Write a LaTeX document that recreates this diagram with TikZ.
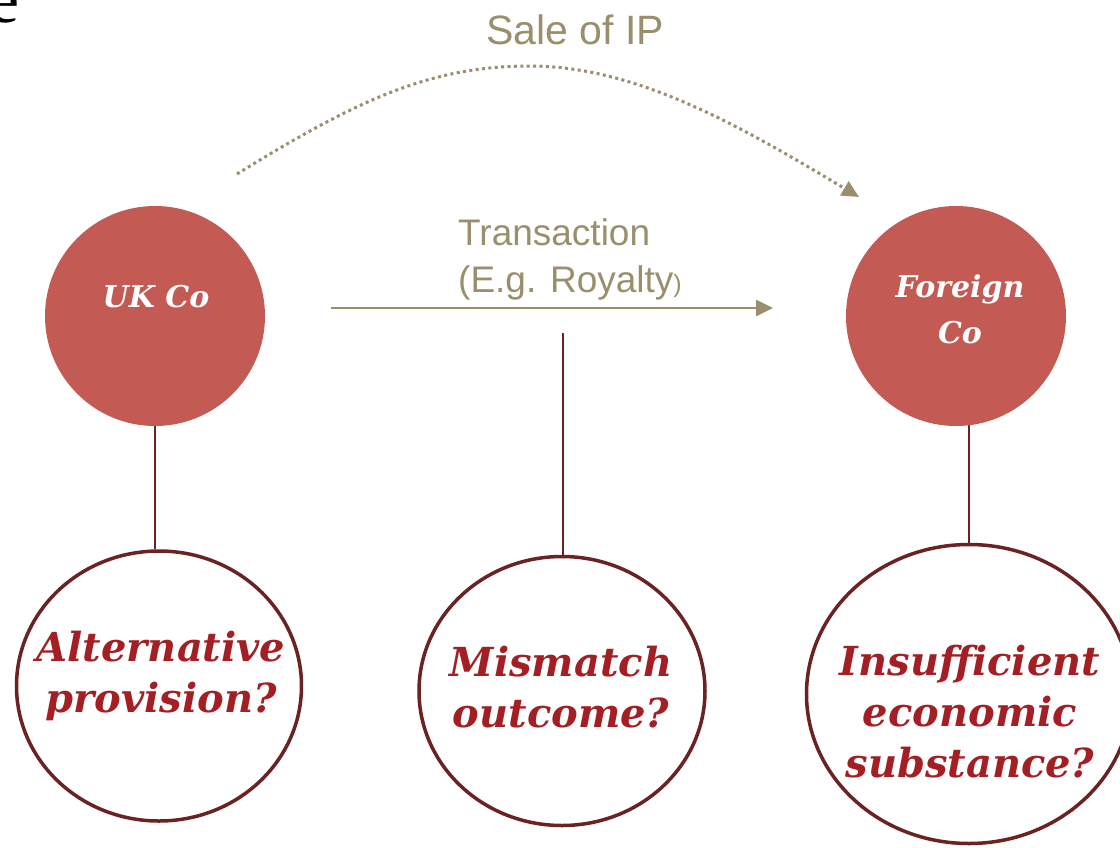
\documentclass[tikz,border=0pt]{standalone}
\usepackage{fontspec}
\setmainfont{Liberation Sans}
\newfontfamily\headfont{DejaVu Serif}
\newfontfamily\letterfont{Liberation Serif}
\usetikzlibrary{shapes.geometric,arrows.meta,backgrounds}

\definecolor{ipolive}{HTML}{9A8F6D}
\definecolor{cofill}{HTML}{C45A54}
\definecolor{rimcol}{HTML}{6A2222}
\definecolor{askred}{HTML}{A31F24}

\tikzset{
  company/.style={circle, fill=cofill, minimum size=220pt, inner sep=0pt},
  colabel/.style={text=white, inner sep=0pt, align=center,
    font=\headfont\bfseries\itshape\fontsize{30}{46}\selectfont},
  question/.style={ellipse, draw=rimcol, line width=3.5pt, fill=white, inner sep=0pt},
  asklabel/.style={text=askred, inner sep=0pt, align=center,
    font=\headfont\bfseries\itshape\fontsize{40}{51}\selectfont},
  stem/.style={draw=rimcol, line width=2.2pt},
  flow/.style={draw=ipolive, line width=2.6pt, -{Triangle[length=17pt,width=16pt]}},
  saleflow/.style={draw=ipolive, line width=3pt, dash pattern=on 3pt off 3.4pt,
    -{Triangle[length=17pt,width=16pt]}},
  flowtext/.style={text=ipolive, inner sep=0pt}
}

\begin{document}
\begin{tikzpicture}[x=1pt, y=-1pt]
\useasboundingbox (0,0) rectangle (1120,847);
\clip (0,0) rectangle (1120,847);

% letter left over from the slide heading
\node[anchor=base east, inner sep=0pt, font=\letterfont\fontsize{70}{70}\selectfont] (corner) at (20,22) {e};

% the two companies (multi-line labels sit on the baseline of their last line)
\node[company] (uk) at (155,316) {};
\node[company] (fc) at (956,316) {};
\node[colabel, anchor=base] (uklabel) at (156,307) {UK Co};
\node[colabel, anchor=base] (fclabel) at (960,343) {Foreign\\Co};

% the three questions
\node[question, minimum width=285pt, minimum height=270pt] (alt) at (159,686) {};
\node[question, minimum width=286pt, minimum height=269pt] (mis) at (562,691) {};
\node[question, minimum width=325pt, minimum height=299pt] (ins) at (969,694) {};
\node[asklabel, anchor=base] (altlabel) at (161,712) {Alternative\\provision?};
\node[asklabel, anchor=base] (mislabel) at (561,727) {Mismatch\\outcome?};
\node[asklabel, anchor=base] (inslabel) at (970,777) {Insufficient\\economic\\substance?};

% stems from the companies and the transaction down to the questions
\begin{scope}[on background layer]
  \draw[stem] (uk.center) -- (uk.center |- alt.north);
  \draw[stem] (fc.center -| ins.north) -- (ins.north);
\end{scope}
\coordinate (midtop) at (563,333);
\draw[stem] (midtop) -- (midtop |- mis.north);

% the transaction
\coordinate (trfrom) at (331,308);
\coordinate (trto) at (773,308);
\draw[flow] (trfrom) -- (trto);
\node[flowtext, anchor=base west, align=left, font=\fontsize{37}{47}\selectfont] (trlabel) at (458,292)
  {Transaction\\(E.g. Royalty{\fontsize{25}{25}\selectfont)}};

% the sale of IP
\coordinate (salefrom) at (237,174);
\coordinate (salepeak) at (530,66);
\coordinate (saleto) at (859,197);
\draw[saleflow] (salefrom) .. controls (357,100) and (430,66) .. (salepeak)
  .. controls (640,66) and (748,131) .. (saleto);
\node[flowtext, anchor=base, font=\fontsize{41}{41}\selectfont] (salelabel) at (575,44) {Sale of IP};
\end{tikzpicture}
\end{document}
